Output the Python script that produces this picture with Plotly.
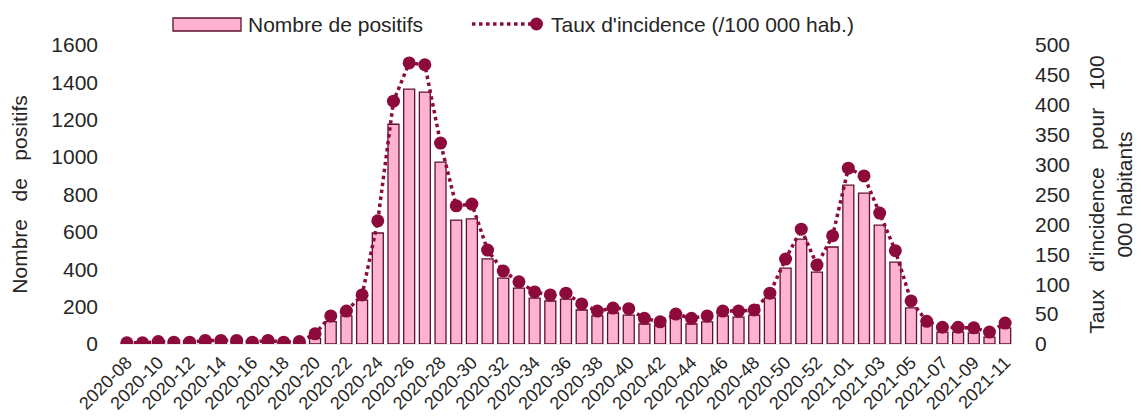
import plotly.graph_objects as go

weeks = [f"2020-{w:02d}" for w in range(8, 54)] + [f"2021-{w:02d}" for w in range(1, 12)]

positifs = [5, 5, 10, 8, 8, 15, 15, 15, 8, 15, 8, 10,
            30, 120, 150, 235, 594, 1176, 1364, 1348, 973, 663, 670,
            455, 352, 299, 246, 230, 240, 182, 150, 166, 155, 107, 101,
            139, 107, 118, 150, 144, 155, 246, 406, 561, 385, 519,
            850, 807, 636, 438, 193, 102, 64, 64, 59, 37, 86]

incidence = [2, 2, 4, 3, 3, 6, 6, 6, 3, 6, 3, 4,
             17, 47, 55, 82, 206, 406, 470, 467, 336, 231, 234,
             157, 122, 104, 87, 82, 85, 67, 55, 60, 59, 43, 37,
             50, 43, 47, 55, 55, 57, 85, 142, 192, 132, 181,
             294, 281, 219, 156, 72, 38, 28, 28, 27, 20, 35]

tick_labels = weeks[::2]

legend_names = ["Nombre de positifs", "Taux d'incidence (/100 000 hab.)"]

FONT = "Liberation Sans, Arial, sans-serif"
TXT = "#262626"
MAROON = "#8C0A3C"
PINK = "#FFB3D1"
EDGE = "#5E1030"

# page body has an 8px margin: figure is sized/offset so the plot lands where the original's is
OFF = 8
W, H = 1141 - OFF, 416 - OFF
ML, MR, MT, MB = 119 - OFF, 128, 45 - OFF, 72
PW, PH = W - ML - MR, H - MT - MB


def px(x):  # screen pixel -> paper
    return (x - OFF - ML) / PW


def py(y):
    return (H - MB - (y - OFF)) / PH


fig = go.Figure()
fig.add_trace(go.Bar(
    x=weeks, y=positifs, name=legend_names[0],
    marker=dict(color=PINK, line=dict(color=EDGE, width=1.3)),
    yaxis="y",
))
fig.add_trace(go.Scatter(
    x=weeks, y=incidence, name=legend_names[1],
    mode="lines+markers",
    line=dict(color=MAROON, width=3.5, dash="dot"),
    marker=dict(color=MAROON, size=13),
    yaxis="y2",
))

# custom legend (wide symbols like the original)
shapes = [
    dict(type="rect", xref="paper", yref="paper",
         x0=px(173), x1=px(241), y0=py(31), y1=py(18),
         fillcolor=PINK, line=dict(color=EDGE, width=1.3)),
    dict(type="line", xref="paper", yref="paper",
         x0=px(472), x1=px(535), y0=py(24), y1=py(24),
         line=dict(color=MAROON, width=3.5, dash="dot")),
    dict(type="circle", xref="paper", yref="paper",
         x0=px(530), x1=px(543), y0=py(30.5), y1=py(17.5),
         fillcolor=MAROON, line=dict(color=MAROON, width=0)),
]
annotations = [
    dict(text=legend_names[0], xref="paper", yref="paper", x=px(246), y=py(24),
         xanchor="left", yanchor="middle", showarrow=False,
         font=dict(size=21, color=TXT, family=FONT)),
    dict(text=legend_names[1], xref="paper", yref="paper", x=px(549), y=py(24),
         xanchor="left", yanchor="middle", showarrow=False,
         font=dict(size=21, color=TXT, family=FONT)),
]

NB = "\u00a0"
fig.update_layout(
    width=W, height=H,
    margin=dict(l=ML, r=MR, t=MT, b=MB),
    paper_bgcolor="white", plot_bgcolor="white",
    font=dict(family=FONT, size=21, color=TXT),
    bargap=0.3,
    showlegend=False,
    shapes=shapes,
    annotations=annotations,
    xaxis=dict(
        type="category", categoryorder="array", categoryarray=weeks,
        range=[-0.5, len(weeks) - 0.5], autorange=False,
        tickmode="array", tickvals=tick_labels, ticktext=tick_labels,
        tickangle=-45, tickfont=dict(size=18, color=TXT),
        showgrid=False, zeroline=False, showline=True, linecolor="#EDEDED", linewidth=1,
        ticks="", automargin=False,
    ),
    yaxis=dict(
        range=[0, 1600], dtick=200, showgrid=False, zeroline=False, showline=False,
        tickfont=dict(size=21, color=TXT), ticklabelstandoff=20, automargin=False,
        title=dict(text=f"Nombre{NB*3}de{NB*3}positifs", font=dict(size=21, color=TXT), standoff=18),
    ),
    yaxis2=dict(
        range=[0, 500], dtick=50, overlaying="y", side="right",
        showgrid=False, zeroline=False, showline=False, automargin=False,
        tickfont=dict(size=21, color=TXT), ticklabelstandoff=21,
        title=dict(text=f"Taux{NB*3}d'incidence{NB*3}pour{NB*3}100<br>000 habitants",
                   font=dict(size=21, color=TXT), standoff=20),
    ),
)

fig.write_html("out.html")
